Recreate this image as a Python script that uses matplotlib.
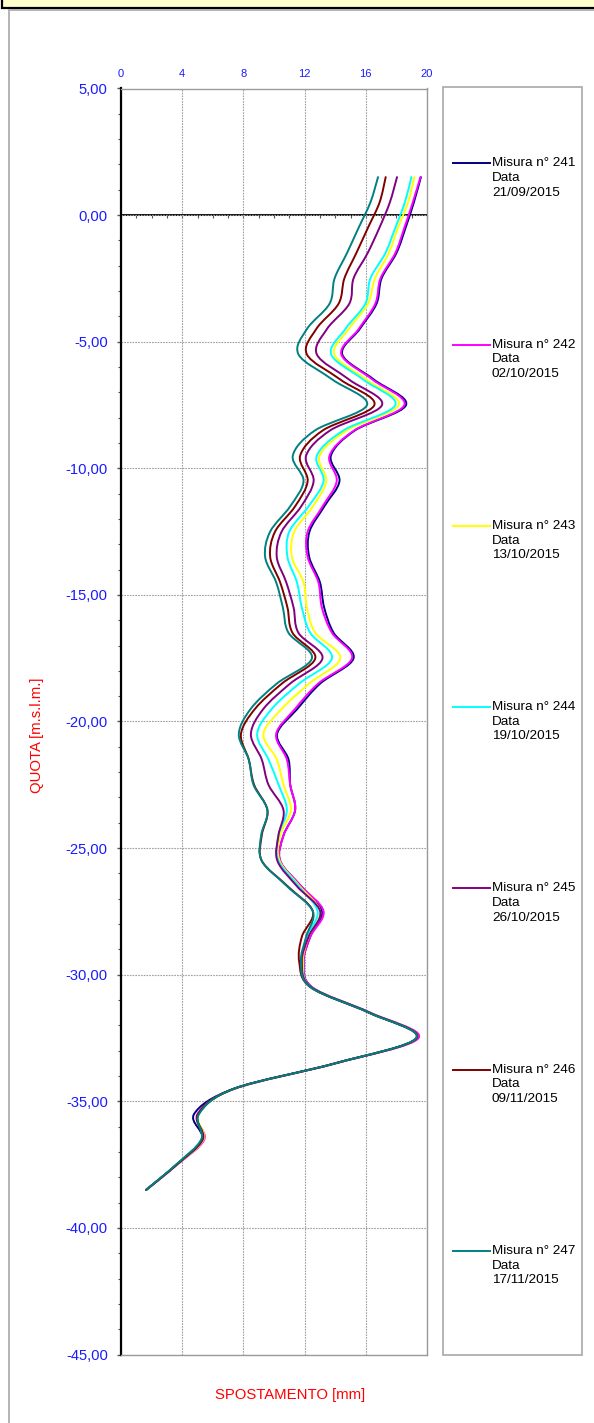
import numpy as np
import matplotlib
matplotlib.use('Agg')
import matplotlib.pyplot as plt
from matplotlib.path import Path
from matplotlib.patches import PathPatch, Rectangle
from matplotlib.lines import Line2D
from matplotlib.ticker import MultipleLocator, FuncFormatter, FixedLocator

plt.rcParams['font.family'] = ['Liberation Sans', 'DejaVu Sans']

# ---------------- data ----------------
depth = [1.5, 0.5, -0.5, -1.5, -2.5, -3.5, -4.5, -5.5, -6.5, -7.5,
         -8.5, -9.5, -10.5, -11.5, -12.5, -13.5, -14.5, -15.5, -16.5, -17.5,
         -18.5, -19.5, -20.5, -21.5, -22.5, -23.5, -24.5, -25.5, -26.5, -27.5,
         -28.5, -29.5, -30.5, -31.5, -32.5, -33.5, -34.5, -35.5, -36.5, -37.5,
         -38.5]

mis_241 = [19.6, 19.14, 18.6, 18.0, 17.03, 16.7, 15.6, 14.46, 16.54, 18.63,
           15.3, 13.72, 14.28, 13.29, 12.32, 12.3, 13.0, 13.28, 13.9, 15.2,
           13.02, 11.53, 10.2, 10.95, 11.06, 11.38, 10.62, 10.4, 11.76, 13.13,
           12.37, 11.93, 12.5, 16.25, 19.35, 14.0, 7.4, 4.78, 5.3, 3.64,
           1.64]
mis_242 = [19.57, 19.07, 18.52, 17.93, 16.96, 16.62, 15.53, 14.4, 16.45, 18.52,
           15.25, 13.63, 14.1, 13.18, 12.2, 12.2, 12.9, 13.13, 13.79, 15.1,
           12.89, 11.38, 10.14, 10.84, 11.06, 11.38, 10.62, 10.4, 11.76, 13.24,
           12.37, 11.93, 12.5, 16.3, 19.45, 14.05, 7.45, 5.0, 5.45, 3.68,
           1.64]
mis_243 = [19.17, 18.76, 18.1, 17.5, 16.6, 16.14, 14.88, 13.94, 16.04, 18.15,
           14.77, 12.98, 13.41, 12.55, 11.33, 11.17, 11.93, 12.15, 12.7, 14.33,
           12.3, 10.51, 9.31, 10.18, 10.62, 11.1, 10.4, 10.36, 11.67, 13.02,
           12.26, 11.89, 12.45, 16.25, 19.35, 14.0, 7.45, 5.1, 5.4, 3.66,
           1.64]
mis_244 = [18.98, 18.55, 17.93, 17.28, 16.3, 15.97, 14.66, 13.74, 15.84, 17.93,
           14.55, 12.8, 13.24, 12.26, 11.0, 10.88, 11.5, 11.82, 12.37, 13.79,
           11.65, 9.86, 8.9, 9.64, 10.3, 10.84, 10.29, 10.29, 11.6, 12.85,
           12.15, 11.82, 12.45, 16.25, 19.3, 14.0, 7.4, 5.1, 5.25, 3.6,
           1.64]
mis_245 = [18.04, 17.57, 16.89, 16.12, 15.2, 14.92, 13.46, 12.8, 14.92, 17.06,
           13.68, 12.1, 12.59, 11.78, 10.5, 10.18, 10.8, 11.28, 11.6, 13.17,
           11.06, 9.31, 8.49, 9.2, 9.64, 10.62, 10.29, 10.22, 11.49, 13.02,
           12.26, 11.82, 12.45, 16.25, 19.35, 14.0, 7.4, 5.05, 5.35, 3.64,
           1.64]
mis_246 = [17.3, 16.9, 16.14, 15.38, 14.6, 14.22, 12.76, 12.15, 14.35, 16.56,
           13.2, 11.71, 12.2, 11.38, 10.07, 9.75, 10.4, 10.88, 11.21, 12.7,
           10.52, 8.76, 7.84, 8.35, 8.7, 9.57, 9.2, 9.2, 10.88, 12.54,
           11.82, 11.65, 12.4, 16.2, 19.3, 14.0, 7.4, 5.05, 5.3, 3.64,
           1.64]
mis_247 = [16.8, 16.3, 15.53, 14.77, 13.96, 13.63, 12.15, 11.6, 13.83, 16.08,
           12.69, 11.23, 11.93, 11.06, 9.75, 9.42, 10.14, 10.58, 10.95, 12.48,
           10.19, 8.48, 7.7, 8.35, 8.66, 9.57, 9.16, 9.2, 10.84, 12.54,
           12.1, 11.76, 12.4, 16.2, 19.3, 14.0, 7.4, 5.1, 5.25, 3.6,
           1.64]

series_values = [mis_241, mis_242, mis_243, mis_244, mis_245, mis_246, mis_247]
series_names = ['Misura n° 241', 'Misura n° 242', 'Misura n° 243', 'Misura n° 244',
                'Misura n° 245', 'Misura n° 246', 'Misura n° 247']
series_dates = ['21/09/2015', '02/10/2015', '13/10/2015', '19/10/2015',
                '26/10/2015', '09/11/2015', '17/11/2015']
series_colors = ['#000080', '#FF00FF', '#FFFF00', '#00FFFF',
                 '#800080', '#800000', '#008080']

x_ticks = [0, 4, 8, 12, 16, 20]

# ---------------- figure ----------------
W, H = 594, 1423
fig = plt.figure(figsize=(W / 100, H / 100), dpi=100)


def fx(px):
    return px / W


def fy(py):
    return 1 - py / H


# top yellow bar with black border
fig.patches.append(Rectangle((fx(1.5), fy(7.5)), fx(620), 20 / H,
                             transform=fig.transFigure, facecolor='#FFFFCC',
                             edgecolor='black', lw=1.6, zorder=0))
# outer gray frame
fig.patches.append(Rectangle((fx(8.5), fy(1440)), fx(620), (1440 - 10.5) / H,
                             transform=fig.transFigure, facecolor='none',
                             edgecolor='#a8a8a8', lw=1.2, zorder=0))

ax = fig.add_axes([fx(121), fy(1354.5), (427 - 121) / W, (1354.5 - 88.5) / H])
ax.set_zorder(2)
ax.set_xlim(0, 20)
ax.set_ylim(-45, 5)

# spines
for s in ['top', 'right', 'bottom']:
    ax.spines[s].set_color('#9a9a9a')
    ax.spines[s].set_linewidth(1.0)
ax.spines['left'].set_color('black')
ax.spines['left'].set_linewidth(1.6)

blue = '#1a1aff'
ax.xaxis.tick_top()
ax.xaxis.set_major_locator(FixedLocator(x_ticks))
ax.tick_params(axis='x', which='both', length=0, labelsize=8, labelcolor=blue, pad=7)

ax.yaxis.set_major_locator(MultipleLocator(5))
ax.yaxis.set_minor_locator(MultipleLocator(1))
ax.yaxis.set_major_formatter(FuncFormatter(lambda v, p: f"{v:.2f}".replace('.', ',')))
ax.tick_params(axis='y', which='major', direction='out', length=3, width=1,
               labelsize=10.6, labelcolor=blue, pad=6.5, color='#555555')
ax.tick_params(axis='y', which='minor', direction='out', length=2.2, width=0.8,
               color='#555555')

ax.grid(True, which='major', color='#a0a0a0', linestyle=(0, (1.5, 1)), linewidth=0.8)
ax.set_axisbelow(True)

# zero line with tick marks (Excel style axis crossing at 0)
sec = ax.secondary_xaxis(0.9)
sec.spines['top'].set_color('black')
sec.spines['top'].set_linewidth(1.3)
sec.xaxis.set_major_locator(MultipleLocator(1))
sec.tick_params(axis='x', direction='in', length=2.5, width=0.8, color='#555555',
                labeltop=False, labelbottom=False)


def smooth_path(xs, ys):
    pts = np.column_stack([xs, ys])
    n = len(pts)
    verts = [pts[0]]
    codes = [Path.MOVETO]
    for i in range(n - 1):
        p0 = pts[i - 1] if i > 0 else pts[i]
        p1 = pts[i]
        p2 = pts[i + 1]
        p3 = pts[i + 2] if i + 2 < n else pts[i + 1]
        c1 = p1 + (p2 - p0) / 6.0
        c2 = p2 - (p3 - p1) / 6.0
        verts.extend([c1, c2, p2])
        codes.extend([Path.CURVE4] * 3)
    return Path(verts, codes)


for vals, col in zip(series_values, series_colors):
    patch = PathPatch(smooth_path(vals, depth), facecolor='none', edgecolor=col,
                      lw=1.4, zorder=3, capstyle='round', joinstyle='round')
    ax.add_patch(patch)

# legend box
fig.patches.append(Rectangle((fx(442.5), fy(1355)), (582 - 442.5) / W, (1355 - 87) / H,
                             transform=fig.transFigure, facecolor='none',
                             edgecolor='#a8a8a8', lw=1.2, zorder=1))
y0, dy = 163.3, 181.3
for i, (nm, dt, col) in enumerate(zip(series_names, series_dates, series_colors)):
    yy = y0 + i * dy
    fig.lines.append(Line2D([fx(453), fx(490)], [fy(yy), fy(yy)], color=col, lw=1.4,
                            transform=fig.transFigure, zorder=3))
    for k, t in enumerate([nm, 'Data', dt]):
        fig.text(fx(492), fy(yy + k * 14.6), t, fontsize=9.7, color='black',
                 ha='left', va='center')

# axis titles
fig.text(fx(290), fy(1395), 'SPOSTAMENTO [mm]', color='#ff0000', fontsize=10.7,
         ha='center', va='center')
fig.text(fx(37), fy(735), 'QUOTA [m.s.l.m.]', color='#ff0000', fontsize=10.7,
         ha='center', va='center', rotation=90)

fig.savefig('out.png', dpi=100)
